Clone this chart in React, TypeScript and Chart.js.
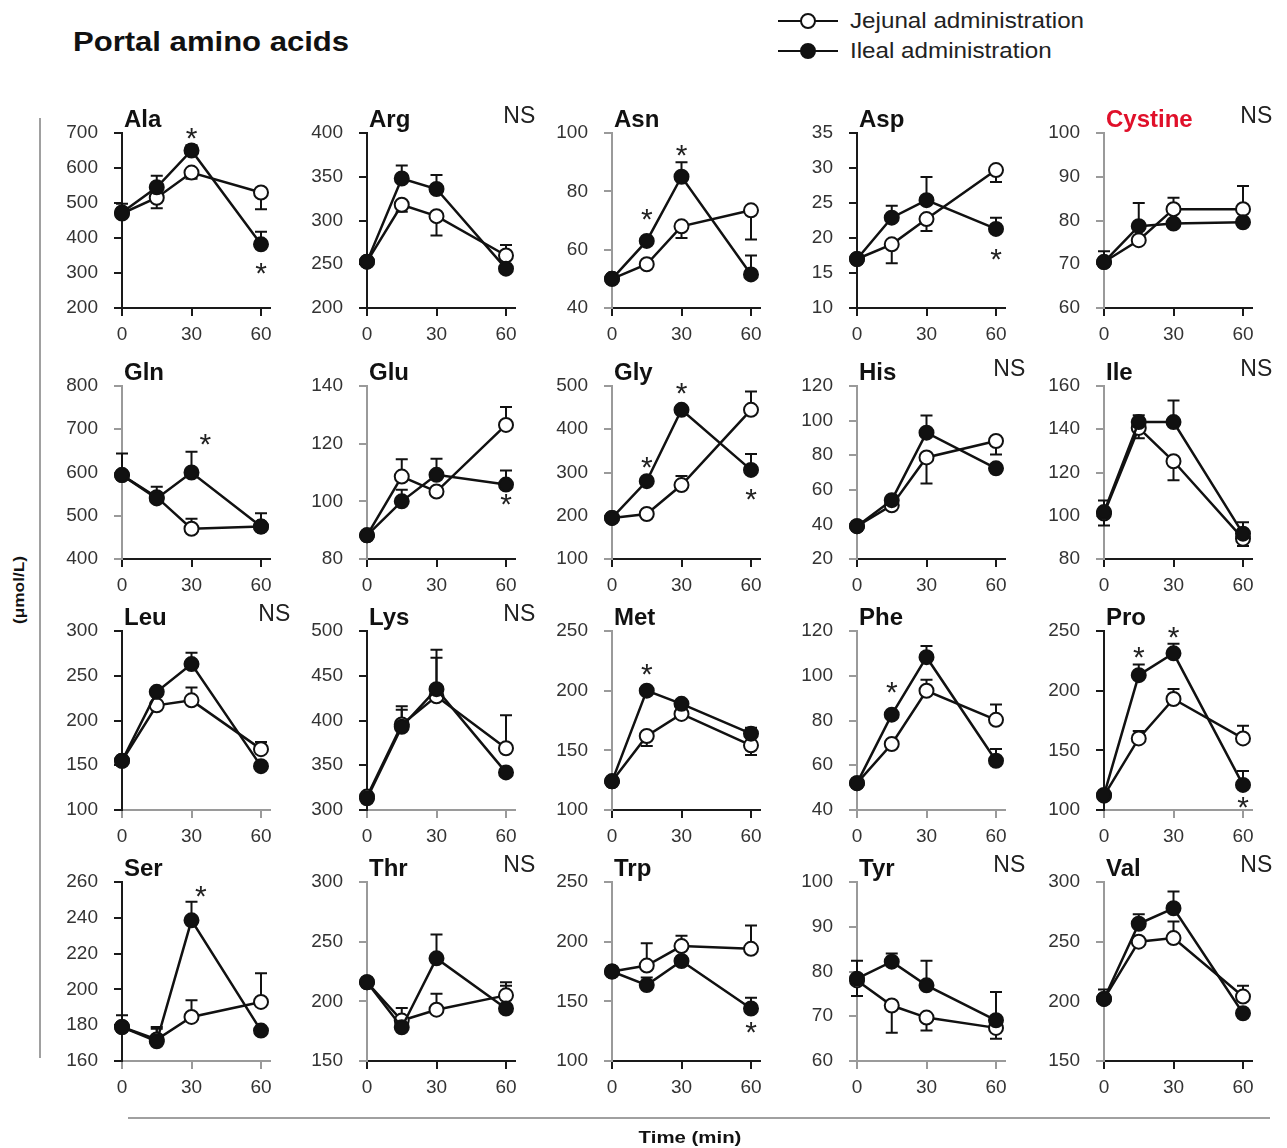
import React, { useEffect, useRef } from 'react';
import { Chart, registerables } from 'chart.js';

Chart.register(...registerables);

// ---------- data ----------
const TIMES = [0, 15, 30, 60];
const X_TICKS = [0, 30, 60];

const acids = ['Ala', 'Arg', 'Asn', 'Asp', 'Cystine', 'Gln', 'Glu', 'Gly', 'His', 'Ile', 'Leu', 'Lys', 'Met', 'Phe', 'Pro', 'Ser', 'Thr', 'Trp', 'Tyr', 'Val'];

const yMin = [200, 200, 40, 10, 60, 400, 80, 100, 20, 80, 100, 300, 100, 40, 100, 160, 150, 100, 60, 150];
const yMax = [700, 400, 100, 35, 100, 800, 140, 500, 120, 160, 300, 500, 250, 120, 250, 260, 300, 250, 100, 300];
const yStep = [100, 50, 20, 5, 10, 100, 20, 100, 20, 20, 50, 50, 50, 20, 50, 20, 50, 50, 10, 50];

// Jejunal administration (open circles), means at 0, 15, 30, 60 min
const jejunalMeans = [
  [470, 515, 587, 530],
  [253, 318, 305, 260],
  [50, 55, 68, 73.5],
  [17, 19.1, 22.7, 29.7],
  [70.5, 75.5, 82.6, 82.6],
  [594, 543, 470, 475],
  [88.2, 108.6, 103.4, 126.5],
  [195, 204, 271, 445],
  [39, 51, 78.7, 88.2],
  [101, 140.6, 125.2, 89.4],
  [155, 217, 222.5, 168],
  [315, 395.5, 427, 369],
  [124, 162, 180.5, 154.2],
  [52, 69.5, 93.3, 80.3],
  [112, 160, 193, 160],
  [179, 172, 184.6, 193],
  [216, 183.9, 193, 205],
  [175, 180, 196.3, 194],
  [78, 72.4, 69.7, 67.4],
  [202, 250, 253, 204],
];
// signed error bars (positive = drawn upward, negative = downward, 0 = none)
const jejunalErr = [
  [0, -30, -18, -48],
  [0, -8, -22, 12],
  [0, 0, -4, -10],
  [0, -2.7, -1.7, -1.7],
  [0, 0, 2.6, 5.3],
  [0, 0, 23, 0],
  [0, 6, 0, 6.2],
  [0, 0, 21, 42],
  [0, 0, -15, -7.8],
  [-5.5, -4.8, -8.8, -3.4],
  [0, 0, 14.5, 8],
  [0, 16.5, 43, 37],
  [0, -8.4, 0, -8.2],
  [0, 0, 4.9, 6.8],
  [0, 6.3, 8.4, 10.6],
  [0, 6, 9.4, 16],
  [0, 0, 13.4, 11],
  [0, 18.6, 8.7, 19.6],
  [-3.5, -6.1, -2.9, -2.4],
  [0, 0, 14, 9],
];

// Ileal administration (filled circles)
const ilealMeans = [
  [473, 545, 650, 382],
  [253, 348, 336, 245],
  [50, 63, 85, 51.5],
  [17, 22.9, 25.4, 21.3],
  [70.5, 78.7, 79.3, 79.6],
  [594, 540, 600, 475],
  [88.2, 100, 109.2, 105.8],
  [195, 280, 445, 306],
  [39, 54, 93, 72.4],
  [101.7, 143.3, 143.3, 91.7],
  [155, 232, 263, 149],
  [313, 393, 435, 342],
  [124, 200, 189, 164],
  [52, 82.6, 108.3, 62],
  [112.6, 213, 231.3, 121],
  [179, 171, 238.6, 177],
  [216, 178.3, 236, 194],
  [175, 163.6, 183.8, 144],
  [78.4, 82.2, 76.9, 69.1],
  [202, 265, 278, 190],
];
const ilealErr = [
  [25, 33, 15, 36],
  [0, 15, 16, 0],
  [0, 0, 5, 6.5],
  [0, 1.7, 3.3, 1.6],
  [2.5, 5.3, 0, 0],
  [50, 27, 48, 31],
  [0, 4, 5.6, 4.9],
  [0, 0, 8, 37],
  [0, 0, 10, 0],
  [5.3, 3.2, 10, 5.3],
  [0, 0, 12.8, 0],
  [0, 23, 44, 0],
  [0, 3, 0, 5],
  [0, 0, 5, 5.3],
  [0, 9, 8.1, 11.6],
  [6.6, 8, 10.4, 0],
  [0, 16.1, 20, 19],
  [0, 6.4, 0, 9],
  [4, 1.8, 5.5, 6.3],
  [8, 8, 14, 0],
];

// significance asterisks: [time, value]
const stars: number[][][] = [
  [[30, 705], [60, 320]],
  [],
  [[15, 73], [30, 95]],
  [[60, 18]],
  [],
  [[36, 682]],
  [[60, 101.5]],
  [[15, 330], [30, 500], [60, 255]],
  [],
  [],
  [],
  [],
  [[15, 220]],
  [[15, 96]],
  [[15, 234], [30, 251], [60, 108]],
  [[34, 256]],
  [],
  [[60, 130]],
  [],
  [],
];
const notSignificant = [false, true, false, false, true, false, false, false, true, true, true, true, false, false, false, false, true, false, true, true];

// ---------- layout / style ----------
const COL_X = [122, 367, 612, 857, 1104];
const ROW_TOP = [133, 386, 631, 882];
const ROW_H = [175, 173, 179, 179];
const DARK = '#1a1a1a';
const GRAY = '#9a9a9a';
const yAxisGray = [false, false, true, false, true, true, true, true, true, true, false, false, true, true, false, false, true, true, true, true];
const xAxisGray = [false, false, false, false, false, false, false, false, false, false, true, true, false, true, true, true, false, false, true, false];
const FONT = '"Liberation Sans", Arial, sans-serif';

const LEFT = 70;
const TOPPAD = 45;
const BOTTOM = 40;
const W = 250;
const X_MAX = 64;
const PX_PER_MIN = 139 / 60;

function Panel({ i }: { i: number }) {
  const ref = useRef<HTMLCanvasElement>(null);
  const col = i % 5;
  const row = Math.floor(i / 5);
  const h = ROW_H[row];
  const H = TOPPAD + h + BOTTOM;
  const plotW = X_MAX * PX_PER_MIN;

  useEffect(() => {
    const xc = xAxisGray[i] ? GRAY : DARK;
    const yc = yAxisGray[i] ? GRAY : DARK;

    const annotate = {
      id: 'annotate' + i,
      beforeDatasetsDraw(chart: any) {
        const { ctx, scales } = chart;
        const xs = scales.x;
        const ys = scales.y;
        ctx.save();
        ctx.strokeStyle = '#111';
        ctx.lineWidth = 2;
        const series = [
          [jejunalMeans[i], jejunalErr[i]],
          [ilealMeans[i], ilealErr[i]],
        ];
        series.forEach(([m, e]) => {
          TIMES.forEach((t, k) => {
            if (!e[k]) return;
            const px = xs.getPixelForValue(t);
            const p0 = ys.getPixelForValue(m[k]);
            const p1 = ys.getPixelForValue(m[k] + e[k]);
            ctx.beginPath();
            ctx.moveTo(px, p0);
            ctx.lineTo(px, p1);
            ctx.moveTo(px - 6, p1);
            ctx.lineTo(px + 6, p1);
            ctx.stroke();
          });
        });
        ctx.restore();
      },
      afterDraw(chart: any) {
        const { ctx, chartArea, scales } = chart;
        ctx.save();
        ctx.textBaseline = 'alphabetic';
        ctx.textAlign = 'left';
        ctx.font = `bold 24px ${FONT}`;
        ctx.fillStyle = acids[i] === 'Cystine' ? '#e0102a' : '#111';
        ctx.fillText(acids[i], chartArea.left + 2, chartArea.top - 6);
        if (notSignificant[i]) {
          ctx.font = `23px ${FONT}`;
          ctx.fillStyle = '#222';
          ctx.textAlign = 'center';
          ctx.fillText('NS', chartArea.right + 4, chartArea.top - 10);
        }
        ctx.font = `30px ${FONT}`;
        ctx.fillStyle = '#222';
        ctx.textAlign = 'center';
        stars[i].forEach(([sx, sy]) => {
          ctx.fillText('*', scales.x.getPixelForValue(sx), scales.y.getPixelForValue(sy) + 17);
        });
        ctx.restore();
      },
    };

    const chart = new Chart(ref.current as HTMLCanvasElement, {
      type: 'line',
      data: {
        datasets: [
          {
            label: 'Ileal administration',
            data: TIMES.map((t, k) => ({ x: t, y: ilealMeans[i][k] })),
            order: 0,
            borderColor: '#111',
            backgroundColor: '#111',
            pointBackgroundColor: '#111',
            pointBorderColor: '#111',
            pointRadius: 7,
            pointBorderWidth: 2,
            borderWidth: 2.5,
            clip: false as any,
          },
          {
            label: 'Jejunal administration',
            data: TIMES.map((t, k) => ({ x: t, y: jejunalMeans[i][k] })),
            order: 1,
            borderColor: '#111',
            backgroundColor: '#fff',
            pointBackgroundColor: '#fff',
            pointBorderColor: '#111',
            pointRadius: 7,
            pointBorderWidth: 2,
            borderWidth: 2.5,
            clip: false as any,
          },
        ],
      },
      options: {
        responsive: false,
        maintainAspectRatio: false,
        animation: false,
        layout: { padding: { left: 0, top: TOPPAD, right: W - LEFT - plotW, bottom: 0 } },
        plugins: { legend: { display: false }, tooltip: { enabled: false } },
        scales: {
          x: {
            type: 'linear',
            min: 0,
            max: X_MAX,
            afterBuildTicks: (s: any) => {
              s.ticks = X_TICKS.map((v) => ({ value: v }));
            },
            afterFit: (s: any) => {
              s.height = BOTTOM;
            },
            grid: { display: true, drawOnChartArea: false, drawTicks: true, tickLength: 8, color: xc, lineWidth: 2 },
            border: { display: true, color: xc, width: 2 },
            ticks: { font: { family: FONT, size: 19 }, color: '#333', padding: 7, maxRotation: 0, autoSkip: false },
          },
          y: {
            type: 'linear',
            min: yMin[i],
            max: yMax[i],
            afterFit: (s: any) => {
              s.width = LEFT;
            },
            grid: { display: true, drawOnChartArea: false, drawTicks: true, tickLength: 8, color: yc, lineWidth: 2 },
            border: { display: true, color: yc, width: 2 },
            ticks: { stepSize: yStep[i], font: { family: FONT, size: 19 }, color: '#333', padding: 16 },
          },
        },
      } as any,
      plugins: [annotate],
    });
    return () => chart.destroy();
  }, [i]);

  return (
    <canvas
      ref={ref}
      width={W}
      height={H}
      style={{ position: 'absolute', left: COL_X[col] - LEFT, top: ROW_TOP[row] - TOPPAD, width: W, height: H }}
    />
  );
}

function Stretched({ text, left, cy, font, sx, color = '#111', center = false }: any) {
  return (
    <div
      style={{
        position: 'absolute',
        left,
        top: cy,
        font,
        color,
        whiteSpace: 'nowrap',
        lineHeight: 1,
        transform: `translate(${center ? '-50%' : '0'}, -50%) scaleX(${sx})`,
        transformOrigin: center ? 'center center' : 'left center',
      }}
    >
      {text}
    </div>
  );
}

function LegendRow({ cy, filled, label }: any) {
  return (
    <>
      <div style={{ position: 'absolute', left: 778, top: cy - 1.25, width: 60, height: 2.5, background: '#111' }} />
      <div
        style={{
          position: 'absolute',
          left: 808 - 8,
          top: cy - 8,
          width: 12,
          height: 12,
          borderRadius: '50%',
          border: '2px solid #111',
          background: filled ? '#111' : '#fff',
        }}
      />
      <Stretched text={label} left={850} cy={cy} font={`22px ${FONT}`} sx={1.1} color="#222" />
    </>
  );
}

export default function App() {
  return (
    <div style={{ position: 'absolute', left: 0, top: 0, width: 1287, height: 1148, background: '#fff', overflow: 'hidden' }}>
      <Stretched text="Portal amino acids" left={73} cy={42} font={`bold 27px ${FONT}`} sx={1.15} />
      <LegendRow cy={21} filled={false} label="Jejunal administration" />
      <LegendRow cy={51} filled={true} label="Ileal administration" />
      {acids.map((_, i) => (
        <Panel key={i} i={i} />
      ))}
      <div style={{ position: 'absolute', left: 39, top: 118, width: 2, height: 940, background: '#a0a0a0' }} />
      <div style={{ position: 'absolute', left: 128, top: 1117, width: 1142, height: 2, background: '#a0a0a0' }} />
      <div
        style={{
          position: 'absolute',
          left: 18,
          top: 590,
          font: `bold 15px ${FONT}`,
          color: '#111',
          whiteSpace: 'nowrap',
          lineHeight: 1,
          transform: 'translate(-50%, -50%) rotate(-90deg) scaleX(1.15)',
        }}
      >
        (μmol/L)
      </div>
      <Stretched text="Time (min)" left={690} cy={1137} font={`bold 17px ${FONT}`} sx={1.2} center />
    </div>
  );
}
